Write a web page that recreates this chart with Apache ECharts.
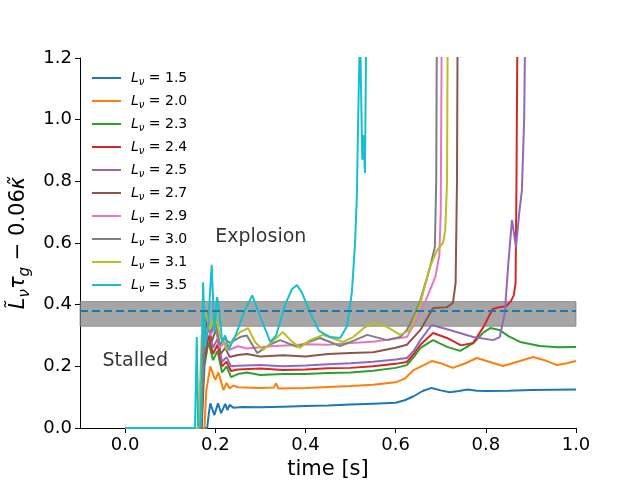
<!DOCTYPE html>
<html><head><meta charset="utf-8">
<script src="https://cdn.jsdelivr.net/npm/echarts@6/dist/echarts.min.js"></script>
<style>html,body{margin:0;padding:0;background:#fff}#c{width:640px;height:480px}</style>
</head><body><div id="c"></div>
<script>
const labels = ['1.5','2.0','2.3','2.4','2.5','2.7','2.9','3.0','3.1','3.5'];
const colors = ['#1f77b4','#ff7f0e','#2ca02c','#d62728','#9467bd','#8c564b','#e377c2','#7f7f7f','#bcbd22','#17becf'];

const L15 = [[0,0],[0.182,0],[0.186,0.05],[0.189,0.08],[0.198,0.042],[0.206,0.08],[0.213,0.048],[0.222,0.078],[0.227,0.058],[0.232,0.075],[0.24,0.066],[0.26,0.068],[0.3,0.067],[0.35,0.069],[0.4,0.071],[0.45,0.073],[0.5,0.076],[0.55,0.079],[0.6,0.082],[0.62,0.09],[0.64,0.103],[0.66,0.12],[0.68,0.13],[0.7,0.122],[0.72,0.116],[0.74,0.12],[0.76,0.125],[0.78,0.121],[0.8,0.12],[0.85,0.121],[0.9,0.123],[0.95,0.124],[1.0,0.125]];
const L20 = [[0,0],[0.176,0],[0.18,0.12],[0.189,0.2],[0.2,0.156],[0.207,0.18],[0.218,0.123],[0.225,0.146],[0.232,0.128],[0.24,0.138],[0.25,0.132],[0.3,0.13],[0.33,0.131],[0.335,0.145],[0.34,0.128],[0.4,0.13],[0.5,0.136],[0.55,0.14],[0.6,0.148],[0.62,0.16],[0.64,0.188],[0.68,0.217],[0.7,0.21],[0.727,0.195],[0.755,0.21],[0.78,0.227],[0.8,0.218],[0.838,0.201],[0.87,0.215],[0.905,0.23],[0.93,0.22],[0.958,0.204],[0.98,0.21],[1.0,0.217]];
const L23 = [[0,0],[0.17,0],[0.176,0.2],[0.185,0.28],[0.195,0.22],[0.205,0.25],[0.215,0.18],[0.225,0.2],[0.235,0.165],[0.25,0.175],[0.27,0.18],[0.3,0.172],[0.35,0.175],[0.4,0.175],[0.45,0.178],[0.5,0.18],[0.55,0.186],[0.6,0.195],[0.625,0.204],[0.64,0.23],[0.655,0.26],[0.683,0.285],[0.714,0.263],[0.743,0.25],[0.772,0.275],[0.795,0.31],[0.81,0.324],[0.83,0.318],[0.85,0.298],[0.876,0.279],[0.92,0.266],[0.96,0.262],[1.0,0.263]];
const L24 = [[0,0],[0.169,0],[0.175,0.22],[0.185,0.3],[0.195,0.24],[0.205,0.27],[0.215,0.2],[0.225,0.215],[0.235,0.185],[0.25,0.19],[0.3,0.193],[0.35,0.188],[0.4,0.19],[0.45,0.194],[0.5,0.195],[0.55,0.2],[0.6,0.208],[0.625,0.214],[0.64,0.24],[0.655,0.27],[0.683,0.308],[0.714,0.292],[0.745,0.268],[0.772,0.276],[0.795,0.328],[0.815,0.386],[0.83,0.392],[0.845,0.395],[0.855,0.41],[0.862,0.43],[0.866,0.47],[0.868,0.8],[0.871,1.5]];
const L25 = [[0,0],[0.168,0],[0.175,0.24],[0.185,0.33],[0.195,0.26],[0.205,0.29],[0.215,0.215],[0.225,0.23],[0.235,0.2],[0.25,0.202],[0.3,0.204],[0.35,0.2],[0.4,0.203],[0.45,0.207],[0.5,0.21],[0.55,0.215],[0.6,0.222],[0.625,0.227],[0.64,0.25],[0.655,0.285],[0.68,0.334],[0.72,0.318],[0.772,0.295],[0.816,0.285],[0.831,0.295],[0.842,0.373],[0.85,0.535],[0.858,0.675],[0.867,0.587],[0.874,0.697],[0.88,0.77],[0.885,1.0],[0.889,1.5]];
const L27 = [[0,0],[0.166,0],[0.172,0.25],[0.182,0.36],[0.192,0.28],[0.202,0.32],[0.212,0.24],[0.222,0.26],[0.232,0.23],[0.25,0.237],[0.27,0.24],[0.3,0.232],[0.35,0.236],[0.4,0.232],[0.45,0.24],[0.5,0.243],[0.55,0.246],[0.6,0.26],[0.625,0.27],[0.655,0.318],[0.683,0.389],[0.714,0.392],[0.727,0.405],[0.733,0.47],[0.736,0.79],[0.738,1.5]];
const L29 = [[0,0],[0.165,0],[0.172,0.27],[0.18,0.37],[0.19,0.3],[0.2,0.34],[0.21,0.26],[0.22,0.28],[0.23,0.253],[0.25,0.265],[0.27,0.258],[0.3,0.262],[0.33,0.266],[0.37,0.268],[0.4,0.272],[0.45,0.27],[0.5,0.276],[0.55,0.28],[0.6,0.29],[0.625,0.295],[0.655,0.373],[0.67,0.425],[0.688,0.49],[0.697,0.56],[0.7,0.7],[0.703,1.5]];
const L30 = [[0,0],[0.165,0],[0.172,0.28],[0.18,0.38],[0.19,0.31],[0.2,0.35],[0.21,0.27],[0.22,0.29],[0.233,0.276],[0.255,0.295],[0.27,0.3],[0.293,0.243],[0.32,0.27],[0.344,0.285],[0.381,0.263],[0.41,0.28],[0.432,0.292],[0.477,0.266],[0.51,0.285],[0.537,0.302],[0.581,0.285],[0.61,0.295],[0.625,0.318],[0.64,0.36],[0.654,0.41],[0.676,0.52],[0.687,0.587],[0.69,0.8],[0.692,1.5]];
const L31 = [[0,0],[0.163,0],[0.17,0.3],[0.178,0.38],[0.188,0.32],[0.2,0.37],[0.21,0.3],[0.226,0.253],[0.24,0.29],[0.255,0.311],[0.273,0.324],[0.288,0.279],[0.306,0.253],[0.33,0.285],[0.35,0.311],[0.37,0.28],[0.388,0.26],[0.41,0.285],[0.439,0.302],[0.483,0.279],[0.506,0.295],[0.53,0.325],[0.55,0.34],[0.581,0.328],[0.61,0.302],[0.632,0.318],[0.654,0.4],[0.676,0.522],[0.692,0.577],[0.705,0.6],[0.71,0.642],[0.714,0.795],[0.716,1.5]];
const L35 = [[0,0],[0.155,0],[0.159,0.295],[0.162,0.005],[0.168,0.005],[0.173,0.473],[0.177,0.26],[0.184,0.33],[0.192,0.529],[0.198,0.31],[0.204,0.425],[0.209,0.38],[0.215,0.28],[0.222,0.3],[0.23,0.255],[0.245,0.3],[0.265,0.38],[0.282,0.43],[0.3,0.36],[0.322,0.279],[0.335,0.3],[0.355,0.4],[0.37,0.45],[0.381,0.464],[0.392,0.44],[0.41,0.375],[0.43,0.315],[0.455,0.295],[0.477,0.292],[0.492,0.33],[0.503,0.44],[0.51,0.6],[0.514,0.75],[0.517,1.01],[0.521,1.3],[0.526,0.87],[0.528,0.95],[0.532,0.827],[0.536,1.5]];
const allData = [L15,L20,L23,L24,L25,L27,L29,L30,L31,L35];

const xTicks = [0.0,0.2,0.4,0.6,0.8,1.0];
const band = [0.33, 0.41];
const critical = 0.38;
const notes = [['Explosion',0.2,0.6],['Stalled',-0.05,0.2]];

const FONT = 'DejaVu Sans';
const chart = echarts.init(document.getElementById('c'), null, {renderer:'canvas'});

const series = [];
series.push({
  name:'band', type:'line', data:[], symbol:'none', silent:true, z:1,
  markArea:{silent:true, itemStyle:{color:'rgba(128,128,128,0.7)', borderColor:'rgba(110,110,110,0.6)', borderWidth:1},
    data:[[{yAxis:band[0]},{yAxis:band[1]}]]},
  markLine:{silent:true, symbol:'none', label:{show:false}, animation:false,
    lineStyle:{color:'#1f77b4', type:[8,4], width:2}, data:[{yAxis:critical}]}
});
allData.forEach((d,i)=>{
  series.push({name:labels[i], type:'line', data:d, symbol:'none', showSymbol:false, z:3,
    lineStyle:{width:2,color:colors[i]}, itemStyle:{color:colors[i]}, clip:true});
});
series.push({
  name:'notes', type:'scatter', symbolSize:0, silent:true, z:5,
  data: notes.map(n=>({value:[n[1],n[2]], name:n[0]})),
  label:{show:true, position:[0,0], align:'left', verticalAlign:'bottom', offset:[0,4],
    formatter:p=>p.name, fontFamily:FONT, fontSize:19, color:'#000'}
});

const rich = {
  i:{fontFamily:FONT, fontSize:14, fontStyle:'italic', color:'#000', lineHeight:18},
  s:{fontFamily:FONT, fontSize:10, fontStyle:'italic', color:'#000', verticalAlign:'bottom', lineHeight:18},
  n:{fontFamily:FONT, fontSize:14, color:'#000', lineHeight:18}
};
const yrich = {
  i:{fontFamily:FONT, fontSize:21, fontStyle:'italic', color:'#000', lineHeight:28},
  s:{fontFamily:FONT, fontSize:15, fontStyle:'italic', color:'#000', verticalAlign:'bottom', lineHeight:28},
  n:{fontFamily:FONT, fontSize:21, color:'#000', lineHeight:28}
};

chart.setOption({
  animation:false,
  backgroundColor:'#fff',
  grid:{left:80, right:64, top:58, bottom:52, containLabel:false, outerBoundsMode:'none'},
  legend:{
    data:labels.map(n=>({name:n, icon:'rect'})), orient:'vertical', left:92, top:71, padding:0,
    itemWidth:29, itemHeight:2, itemGap:7,
    selectedMode:false,
    formatter:name=>'{i|L}{s|ν}{n| = '+name+'}',
    textStyle:{fontFamily:FONT, fontSize:14, color:'#000', padding:[0,0,0,5], rich:rich}
  },
  xAxis:{
    type:'value', min:-0.1, max:1.0,
    axisLine:{show:true, onZero:false, lineStyle:{color:'#000', width:1}},
    axisTick:{show:true, customValues:xTicks, length:5, lineStyle:{color:'#000'}},
    axisLabel:{customValues:xTicks, formatter:v=>v.toFixed(1), fontFamily:FONT, fontSize:18, color:'#000', margin:8},
    splitLine:{show:false},
    name:'time [s]', nameLocation:'middle', nameGap:27,
    nameTextStyle:{fontFamily:FONT, fontSize:21, color:'#000', verticalAlign:'top'}
  },
  yAxis:{
    type:'value', min:0, max:1.2, interval:0.2,
    axisLine:{show:true, onZero:false, lineStyle:{color:'#000', width:1}},
    axisTick:{show:true, length:5, lineStyle:{color:'#000'}},
    axisLabel:{formatter:v=>v.toFixed(1), fontFamily:FONT, fontSize:18, color:'#000', margin:8},
    splitLine:{show:false},
    name:'{i|L\u0303}{s|ν}{i|τ}{s|g}{n| − 0.06}{i|κ\u0303}', nameLocation:'middle', nameGap:44, nameRotate:90,
    nameTextStyle:{fontFamily:FONT, fontSize:21, color:'#000', rich:yrich}
  },
  series:series
});
</script></body></html>
